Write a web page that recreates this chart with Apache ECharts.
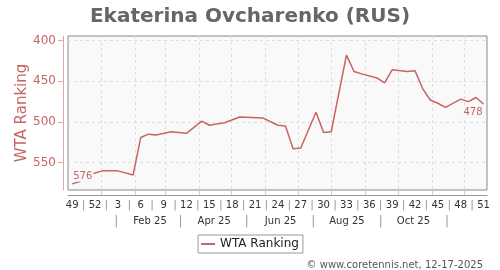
<!DOCTYPE html>
<html>
<head>
<meta charset="utf-8">
<script src="https://cdn.jsdelivr.net/npm/echarts@6/dist/echarts.min.js"></script>
<style>
html,body{margin:0;padding:0;background:#fff;}
#chart{width:500px;height:270px;}
</style>
</head>
<body>
<div id="chart"></div>
<script>
// Week index 0 = ISO week 49 of 2024
var weeks = [0,1,2,4,6,8,9,10,11,13,15,17,18,20,22,25,27,28,29,30,32,33,34,36,37,38,40,41,42,44,45,46,47,48,49,51,52,53,54];
var ranks = [576,573,565,560,560,565,519,515,516,512,514,499,504,501,494,495,504,505,533,532,488,513,512,418,438,441,446,452,436,438,437,459,473,477,482,472,475,470,478];

var weekTickPos = [0,3,6,9,12,15,18,21,24,27,30,33,36,39,42,45,48,51,54];
var weekTickLabels = ['49','52','3','6','9','12','15','18','21','24','27','30','33','36','39','42','45','48','51'];
var weekSepPos = [1.5,4.5,7.5,10.5,13.5,16.5,19.5,22.5,25.5,28.5,31.5,34.5,37.5,40.5,43.5,46.5,49.5,52.5];
var monthStartPos = [3.786,8.214,12.214,16.643,20.929,25.357,29.643,34.071,38.5,42.786,47.214,51.5];
var monthLabelPos = [10.21,18.64,27.36,36.07,44.79];
var monthLabels = ['Feb 25','Apr 25','Jun 25','Aug 25','Oct 25'];
var monthSepPos = [5.79,14.21,22.93,31.64,40.5,49.21];
var yTicks = [400,450,500,550];

var lineColor = '#c86464';

function key(v){ return Number(v).toFixed(2); }
var row1 = {}, row2 = {};
weekTickPos.forEach(function(p,i){ row1[key(p)] = weekTickLabels[i]; });
weekSepPos.forEach(function(p){ row1[key(p)] = '{s||}'; });
monthLabelPos.forEach(function(p,i){ row2[key(p)] = monthLabels[i]; });
monthSepPos.forEach(function(p){ row2[key(p)] = '{s||}'; });

var last = weeks.length - 1;
var seriesData = weeks.map(function(w,i){
  var item = { value: [w, ranks[i]] };
  if (i === 0) {
    item.label = { show: true, position: 'top', align: 'left', distance: 2 };
  } else if (i === last) {
    item.label = { show: true, position: 'bottom', align: 'right', distance: 3 };
  }
  return item;
});

var chart = echarts.init(document.getElementById('chart'), null, {renderer:'canvas'});
chart.setOption({
  animation: false,
  backgroundColor: '#ffffff',
  title: [
    { text: 'Ekaterina Ovcharenko (RUS)', left: 'center', top: 2,
      textStyle: { fontFamily: 'DejaVu Sans', fontSize: 20, fontWeight: 'bold', color: '#666' } },
    { text: '\u00a9 www.coretennis.net, 12-17-2025', right: 12, top: 255,
      textStyle: { fontFamily: 'DejaVu Sans', fontSize: 10, fontWeight: 'normal', color: '#555' } }
  ],
  legend: {
    left: 'center', top: 235,
    padding: [3,4,3,3],
    borderColor: '#999', borderWidth: 1, backgroundColor: '#fff',
    icon: 'rect', itemWidth: 14, itemHeight: 2, itemGap: 5,
    textStyle: { fontFamily: 'DejaVu Sans', fontSize: 12, color: '#222' },
    data: ['WTA Ranking']
  },
  grid: {
    left: 68, top: 36, width: 419, height: 154,
    show: true, backgroundColor: '#f9f9f9', borderColor: '#888', borderWidth: 1,
    outerBoundsMode: 'none'
  },
  xAxis: [
    {
      type: 'value', min: -0.55, max: 54.45, position: 'bottom', offset: 5,
      axisLine: { show: true, onZero: false, lineStyle: { color: '#999', width: 1 } },
      axisTick: { show: true, inside: true, length: 5, customValues: monthStartPos, lineStyle: { color: '#ccc' } },
      axisLabel: {
        show: true, customValues: weekTickPos.concat(weekSepPos), margin: 5,
        fontFamily: 'DejaVu Sans', fontSize: 10, color: '#333',
        formatter: function(v){ return row1[key(v)] || ''; },
        rich: { s: { color: '#999', fontSize: 11 } }
      },
      splitLine: { show: true, lineStyle: { color: '#ddd', type: [3,3], width: 1 } }
    },
    {
      type: 'value', min: -0.55, max: 54.45, position: 'bottom', offset: 21,
      axisLine: { show: false, onZero: false }, axisTick: { show: false }, splitLine: { show: false },
      axisLabel: {
        show: true, customValues: monthLabelPos.concat(monthSepPos), margin: 5,
        fontFamily: 'DejaVu Sans', fontSize: 10, color: '#333',
        formatter: function(v){ return row2[key(v)] || ''; },
        rich: { s: { color: '#999', fontSize: 12 } }
      }
    }
  ],
  yAxis: {
    type: 'value', inverse: true, min: 394.5, max: 583.5, position: 'left', offset: 5,
    name: 'WTA Ranking', nameLocation: 'middle', nameGap: 33, nameMoveOverlap: false,
    nameTextStyle: { fontFamily: 'DejaVu Sans', fontSize: 15, color: lineColor },
    axisLine: { show: true, onZero: false, lineStyle: { color: '#e0a8a8', width: 1 } },
    axisTick: { show: true, length: 5, customValues: yTicks, lineStyle: { color: '#e0a8a8' } },
    axisLabel: { show: true, customValues: yTicks, margin: 7, fontFamily: 'DejaVu Sans', fontSize: 12, color: lineColor },
    splitLine: { show: true, lineStyle: { color: '#ddd', type: [3,3], width: 1 } }
  },
  series: [{
    name: 'WTA Ranking',
    type: 'line',
    data: seriesData,
    showSymbol: true,
    symbol: 'circle',
    symbolSize: 0.5,
    itemStyle: { color: lineColor },
    lineStyle: { color: lineColor, width: 1.5 },
    label: {
      show: false, fontFamily: 'DejaVu Sans', fontSize: 10, color: lineColor,
      backgroundColor: '#f9f9f9', padding: [0,1,0,1],
      formatter: function(p){ return String(p.value[1]); }
    },
    emphasis: { disabled: true }
  }]
});
</script>
</body>
</html>
